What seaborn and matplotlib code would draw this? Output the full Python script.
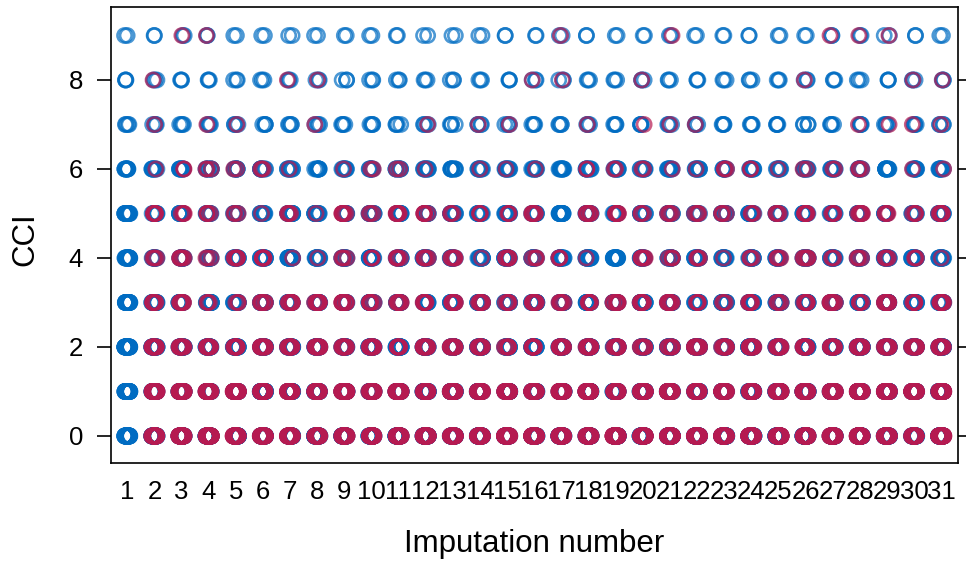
import matplotlib
matplotlib.use("Agg")
import matplotlib.pyplot as plt
import numpy as np
import pandas as pd
import seaborn as sns

# imputation number labels (1 = observed data, 2..31 = imputed data sets)
imp_labels = [str(i) for i in range(1, 32)]
cci_levels = [0, 1, 2, 3, 4, 5, 6, 7, 8, 9]

# number of observed cases at each CCI level
obs_counts = [60, 45, 35, 25, 20, 15, 10, 4, 3, 2]

# number of imputed cases per CCI level, for imputations 2..31
imp_cci0 = [40] * 30
imp_cci1 = [32] * 30
imp_cci2 = [12, 12, 10, 12, 12, 12, 12, 12, 12, 7, 12, 12, 12, 7, 12, 12, 12, 12, 7, 7, 12, 12, 12, 12, 12, 12, 12, 12, 12, 12]
imp_cci3 = [6, 7, 3, 3, 6, 8, 9, 9, 8, 8, 8, 8, 8, 6, 8, 6, 8, 8, 8, 8, 4, 3, 6, 4, 8, 8, 4, 8, 6, 8]
imp_cci4 = [4, 6, 3, 6, 6, 1, 1, 4, 3, 6, 6, 6, 1, 6, 4, 3, 1, 0, 6, 4, 4, 1, 3, 4, 6, 3, 4, 4, 3, 1]
imp_cci5 = [6, 4, 4, 3, 1, 4, 1, 7, 3, 6, 6, 3, 3, 3, 6, 0, 6, 7, 3, 4, 4, 4, 3, 4, 7, 4, 7, 4, 4, 7]
imp_cci6 = [1, 2, 3, 2, 3, 1, 0, 1, 2, 2, 1, 0, 1, 1, 1, 0, 2, 2, 2, 1, 1, 3, 2, 1, 2, 2, 3, 0, 1, 1]
imp_cci7 = [1, 0, 1, 1, 0, 0, 1, 0, 0, 0, 1, 0, 1, 1, 0, 0, 1, 0, 1, 1, 1, 0, 0, 0, 0, 0, 1, 1, 1, 1]
imp_cci8 = [1, 0, 0, 0, 0, 1, 1, 0, 0, 0, 0, 0, 0, 0, 1, 1, 0, 0, 1, 0, 0, 0, 0, 0, 1, 0, 0, 0, 1, 1]
imp_cci9 = [0, 1, 1, 0, 0, 0, 0, 0, 0, 0, 0, 0, 0, 0, 0, 1, 0, 0, 0, 1, 0, 0, 0, 0, 0, 1, 1, 1, 0, 0]
imp_counts = [imp_cci0, imp_cci1, imp_cci2, imp_cci3, imp_cci4,
              imp_cci5, imp_cci6, imp_cci7, imp_cci8, imp_cci9]

blue = "#006CC2"
red = "#B61A51"

# observed values appear in every column
obs_rows = []
for lab in imp_labels:
    for lvl, n in zip(cci_levels, obs_counts):
        obs_rows += [(lab, lvl)] * n
obs_df = pd.DataFrame(obs_rows, columns=["imp", "cci"])

imp_rows = []
for j, lab in enumerate(imp_labels[1:]):
    for lvl, counts in zip(cci_levels, imp_counts):
        imp_rows += [(lab, lvl)] * counts[j]
imp_df = pd.DataFrame(imp_rows, columns=["imp", "cci"])

np.random.seed(3)
plt.rcParams["font.family"] = ["Liberation Sans", "DejaVu Sans"]
fig = plt.figure(figsize=(9.66, 5.61), dpi=100)
ax = fig.add_axes([0.1149, 0.1747, 0.8768, 0.8128])

sns.stripplot(data=obs_df, x="imp", y="cci", order=imp_labels, color=blue,
              jitter=0.1, size=10.2, ax=ax)
sns.stripplot(data=imp_df, x="imp", y="cci", order=imp_labels, color=red,
              jitter=0.1, size=10.2, ax=ax)

for coll in ax.collections:
    fc = coll.get_facecolor()
    coll.set_edgecolor(fc)
    coll.set_facecolor("none")
    coll.set_linewidth(1.9)
    coll.set_alpha(0.7)

ax.set_xlim(-0.6, 30.62)
ax.set_ylim(-0.607, 9.64)
ax.set_yticks([0, 2, 4, 6, 8])
ax.set_xticks(range(31))
ax.set_xticklabels(imp_labels)

for sp in ax.spines.values():
    sp.set_visible(True)
    sp.set_color("black")
    sp.set_linewidth(1.2)

ax.tick_params(axis="y", left=True, right=True, length=10, width=1.2,
               labelsize=18.5, pad=10)
ax.tick_params(axis="x", length=0, labelsize=18.5, pad=12)

ax.set_xlabel("Imputation number", fontsize=22.5)
ax.set_ylabel("CCI", fontsize=22.5)
ax.xaxis.set_label_coords(0.5, -0.145)
ax.yaxis.set_label_coords(-0.083, 0.49)

fig.savefig("out.png", dpi=100)
